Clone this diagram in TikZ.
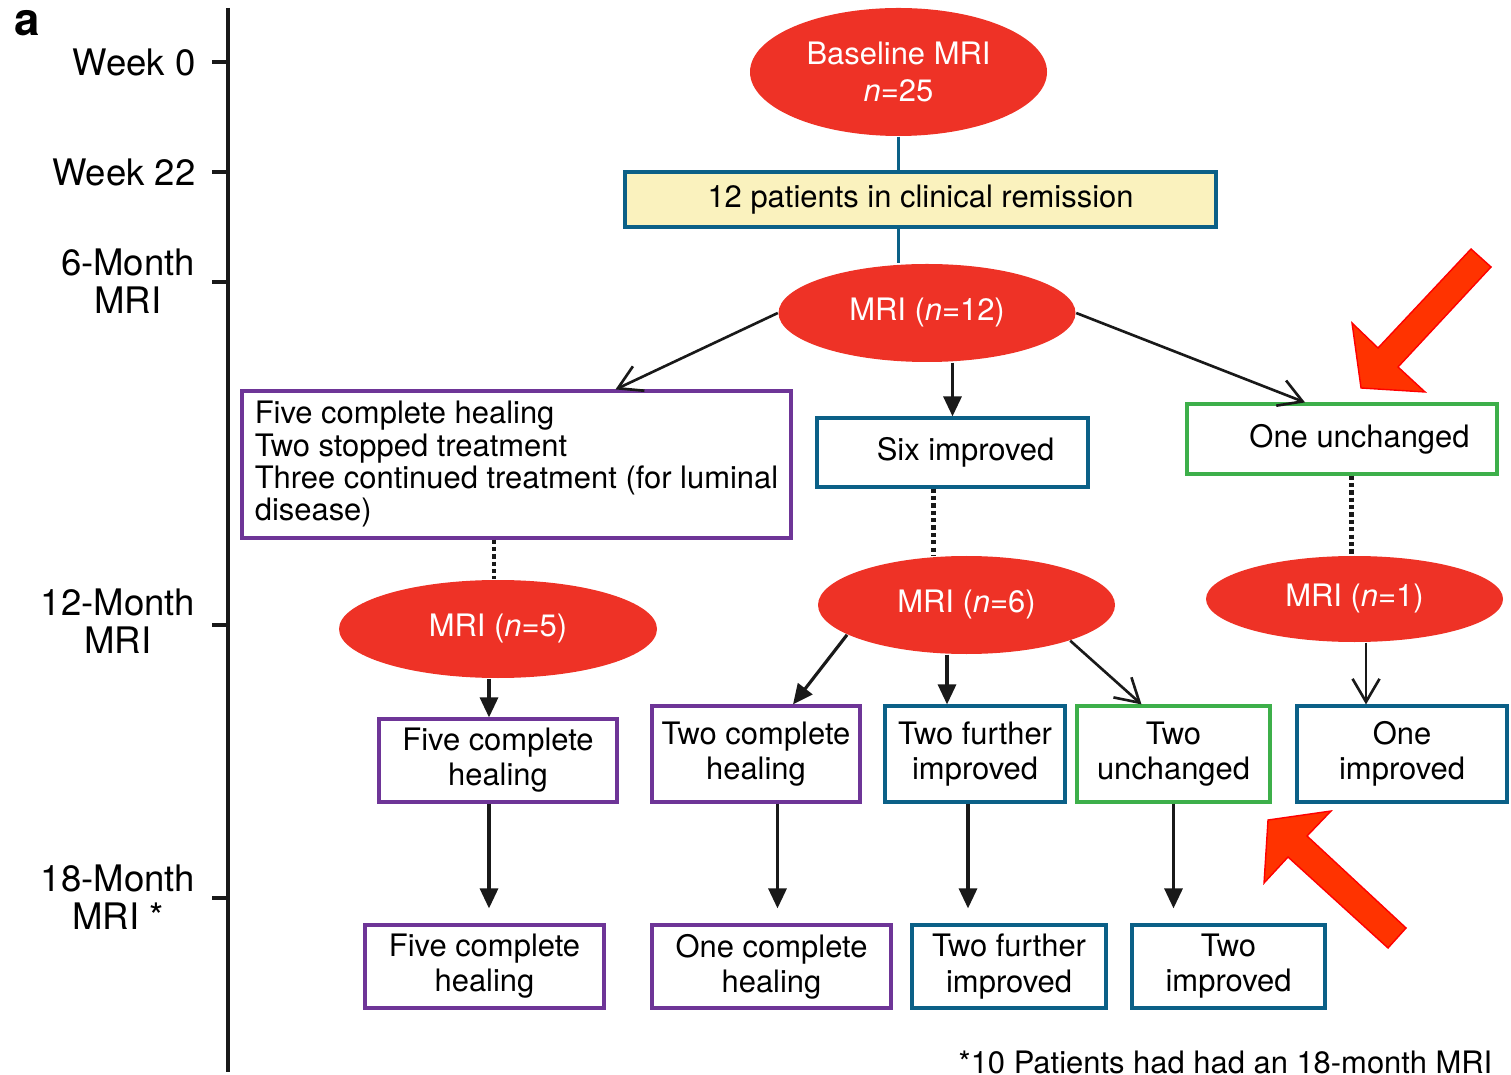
\documentclass[tikz,border=0pt]{standalone}
\usepackage{fontspec}
\setmainfont{TeX Gyre Heros}
\usepackage{tikz}
\usetikzlibrary{shapes.geometric, arrows.meta}

\definecolor{mrired}{HTML}{EE3226}
\definecolor{bigred}{HTML}{FF3300}
\definecolor{boxblue}{HTML}{0B6087}
\definecolor{boxpurple}{HTML}{6E3597}
\definecolor{boxgreen}{HTML}{3DAF4A}
\definecolor{remyellow}{HTML}{FAF2BE}

\tikzset{
  txt/.style={font=\fontsize{8.8}{10}\selectfont},
  axlab/.style={font=\fontsize{10.4}{10.8}\selectfont, align=center},
  mri/.style={ellipse, fill=mrired, text=white, inner sep=0pt, txt,
    minimum width=2.97cm, minimum height=0.98cm},
  box/.style={draw, line width=0.9pt, fill=white, align=center, inner sep=0pt, txt},
  pbox/.style={box, draw=boxpurple},
  bbox/.style={box, draw=boxblue},
  gbox/.style={box, draw=boxgreen},
  arr/.style={line width=0.9pt, draw=black!90, -{Triangle[length=2mm, width=1.8mm]}},
  oarr/.style={line width=0.75pt, draw=black!90, -{Straight Barb[length=2.3mm, width=2.7mm]}},
  dotln/.style={line width=1.4pt, draw=black!90, dash pattern=on 1.2pt off 0.9pt},
  bigarrow/.style={fill=bigred, draw=red, line width=0.4pt}
}

\begin{document}
\begin{tikzpicture}
  \useasboundingbox (0,0) rectangle (15.11,-10.75);

  % time axis
  \draw[line width=0.9pt, black!90] (2.28,-0.08) -- (2.28,-10.72);
  \foreach \y in {0.62, 1.72, 2.82, 6.25, 8.98}
    \draw[line width=0.9pt, black!90] (2.12,-\y) -- (2.28,-\y);

  \node[anchor=base west, inner sep=0pt, font=\fontsize{13}{13}\selectfont\bfseries] (panel) at (0.14,-0.36) {a};
  \node[axlab, anchor=east] (wk0) at (2.08,-0.62) {Week 0};
  \node[axlab, anchor=east] (wk22) at (2.08,-1.72) {Week 22};
  \node[axlab] (m6) at (1.28,-2.81) {6-Month\\MRI};
  \node[axlab] (m12) at (1.18,-6.21) {12-Month\\MRI};
  \node[axlab] (m18) at (1.18,-8.97) {18-Month\\MRI *};

  % top of the tree
  \node[mri, minimum height=1.28cm, font=\fontsize{8.8}{10.5}\selectfont, align=center] (base) at (8.985,-0.72) {Baseline MRI\\\textit{n}=25};
  \node[box, draw=boxblue, fill=remyellow, minimum width=5.91cm, minimum height=0.55cm] (rem) at (9.205,-1.995) {12 patients in clinical remission};
  \node[mri] (mri12) at (9.27,-3.13) {MRI (\textit{n}=12)};
  \draw[boxblue, line width=0.9pt] (base.south) -- (base.south |- rem.north);
  \draw[boxblue, line width=0.9pt] (base.south |- rem.south) -- (base.south |- mri12.north);

  % 6-month results
  \node[pbox, align=left, minimum width=5.49cm, minimum height=1.47cm, font=\fontsize{8.8}{9.2}\selectfont] (heal) at (5.165,-4.645)
    {Five complete healing\\Two stopped treatment\\Three continued treatment (for luminal\\disease)};
  \node[bbox, minimum width=2.71cm, minimum height=0.69cm] (six) at (9.525,-4.525) {\hspace*{0.26cm}Six improved};
  \node[gbox, minimum width=3.10cm, minimum height=0.70cm] (unch) at (13.42,-4.39) {\hspace*{0.35cm}One unchanged};

  \draw[oarr] (mri12.west) -- ([xshift=0.99cm]heal.north);
  \draw[arr] (mri12.south -| six.north) -- (six.north);
  \draw[oarr] (mri12.east) -- ([xshift=-0.37cm]unch.north);

  % 12-month MRI
  \node[mri, minimum width=3.18cm] (mri5) at (4.98,-6.29) {MRI (\textit{n}=5)};
  \node[mri] (mri6) at (9.665,-6.05) {MRI (\textit{n}=6)};
  \node[mri, minimum height=0.86cm] (mri1) at (13.545,-5.99) {MRI (\textit{n}=1)};

  \draw[dotln] ([xshift=-0.04cm]mri5.north |- heal.south) -- ([xshift=-0.04cm]mri5.north);
  \draw[dotln] ([xshift=-0.19cm]six.south) -- ([xshift=-0.19cm]six.south |- mri6.north);
  \draw[dotln] ([xshift=-0.03cm]mri1.north |- unch.south) -- ([xshift=-0.03cm]mri1.north);

  % 12-month results
  \node[pbox, minimum width=2.38cm, minimum height=0.83cm] (r2a) at (4.98,-7.605) {Five complete\\healing};
  \node[pbox, minimum width=2.08cm, minimum height=0.96cm] (r2b) at (7.56,-7.54) {Two complete\\healing};
  \node[bbox, minimum width=1.80cm, minimum height=0.96cm] (r2c) at (9.75,-7.54) {Two further\\improved};
  \node[gbox, minimum width=1.93cm, minimum height=0.96cm] (r2d) at (11.735,-7.54) {Two\\unchanged};
  \node[bbox, minimum width=2.10cm, minimum height=0.96cm] (r2e) at (14.02,-7.54) {One\\improved};

  \draw[arr] ([xshift=-0.09cm]mri5.south) -- ([xshift=-0.09cm]r2a.north);
  \draw[arr] (mri6.194) -- ([xshift=0.37cm]r2b.north);
  \draw[arr] ([xshift=-0.28cm]r2c.north |- mri6.south) -- ([xshift=-0.28cm]r2c.north);
  \draw[oarr] (mri6.-19) -- ([xshift=-0.32cm]r2d.north);
  \draw[oarr] ([xshift=-0.36cm]r2e.north |- mri1.south) -- ([xshift=-0.36cm]r2e.north);

  % 18-month results
  \node[pbox, minimum width=2.39cm, minimum height=0.83cm] (r3a) at (4.845,-9.665) {Five complete\\healing};
  \node[pbox, minimum width=2.39cm, minimum height=0.83cm] (r3b) at (7.715,-9.665) {One complete\\healing};
  \node[bbox, minimum width=1.94cm, minimum height=0.83cm] (r3c) at (10.09,-9.665) {Two further\\improved};
  \node[bbox, minimum width=1.93cm, minimum height=0.83cm] (r3d) at (12.285,-9.665) {Two\\improved};

  \draw[arr, shorten >=0.15cm] ([xshift=-0.09cm]r2a.south) -- ([xshift=-0.09cm]r2a.south |- r3a.north);
  \draw[arr, shorten >=0.15cm] ([xshift=0.06cm]r3b.north |- r2b.south) -- ([xshift=0.06cm]r3b.north);
  \draw[arr, shorten >=0.15cm] ([xshift=-0.07cm]r2c.south) -- ([xshift=-0.07cm]r2c.south |- r3c.north);
  \draw[arr, shorten >=0.15cm] (r2d.south) -- (r2d.south |- r3d.north);

  % red pointers
  \filldraw[bigarrow] (14.71,-2.49) -- (14.91,-2.67) -- (13.98,-3.67) -- (14.25,-3.92)
    -- (13.61,-3.88) -- (13.52,-3.23) -- (13.78,-3.48) -- cycle;
  \filldraw[bigarrow] (12.68,-8.20) -- (13.31,-8.11) -- (13.07,-8.36) -- (14.06,-9.28)
    -- (13.88,-9.48) -- (12.88,-8.57) -- (12.64,-8.83) -- cycle;

  \node[txt, anchor=base east, inner sep=0pt] (note) at (14.93,-10.73) {*10 Patients had had an 18-month MRI};
\end{tikzpicture}
\end{document}
